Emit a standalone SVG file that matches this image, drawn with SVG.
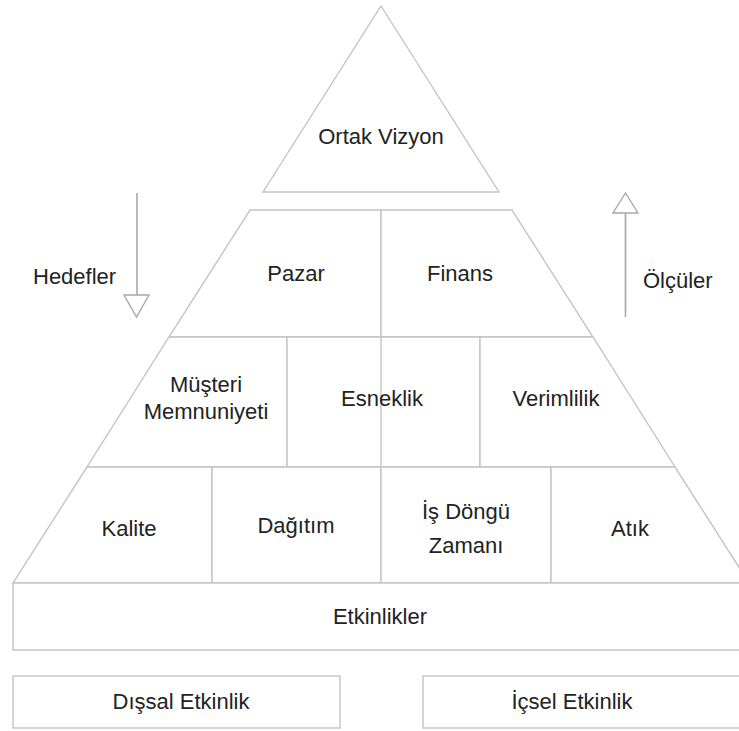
<svg xmlns="http://www.w3.org/2000/svg" width="739" height="731" viewBox="0 0 739 731">
  <defs>
    <style>
      .cell { fill: #ffffff; stroke: #c4c4c4; stroke-width: 1.4; stroke-linejoin: miter; }
      .axis { fill: none; stroke: #c4c4c4; stroke-width: 1.4; }
      .lbl { font-family: "Liberation Sans", Arial, sans-serif; font-size: 22px; fill: #222222; text-anchor: middle; }
      .side { font-family: "Liberation Sans", Arial, sans-serif; font-size: 22px; fill: #222222; }
      .shaft { fill: none; stroke: #a8a8a8; stroke-width: 1.6; }
      .head { fill: #ffffff; stroke: #a8a8a8; stroke-width: 1.4; }
    </style>
  </defs>
  <rect width="739" height="731" fill="#ffffff"/>

  <!-- apex -->
  <g id="ortak-vizyon">
    <polygon class="cell" points="381,6 499,192 263,192"/>
    <text class="lbl" x="381" y="144">Ortak Vizyon</text>
  </g>

  <!-- tier 1 -->
  <g id="pazar">
    <polygon class="cell" points="250,210 381,210 381,337 169,337"/>
    <text class="lbl" x="296" y="281">Pazar</text>
  </g>
  <g id="finans">
    <polygon class="cell" points="381,210 512,210 593,337 381,337"/>
    <text class="lbl" x="460" y="281">Finans</text>
  </g>

  <!-- tier 2 -->
  <g id="musteri-memnuniyeti">
    <polygon class="cell" points="169,337 287,337 287,467 87,467"/>
    <text class="lbl" x="206" y="392">Müşteri</text>
    <text class="lbl" x="206" y="419">Memnuniyeti</text>
  </g>
  <g id="esneklik">
    <polygon class="cell" points="287,337 480,337 480,467 287,467"/>
    <line class="axis" x1="381" y1="337" x2="381" y2="467"/>
    <text class="lbl" x="382" y="406">Esneklik</text>
  </g>
  <g id="verimlilik">
    <polygon class="cell" points="480,337 593,337 675,467 480,467"/>
    <text class="lbl" x="556" y="406">Verimlilik</text>
  </g>

  <!-- tier 3 -->
  <g id="kalite">
    <polygon class="cell" points="87,467 212,467 212,583 13,583"/>
    <text class="lbl" x="129" y="536">Kalite</text>
  </g>
  <g id="dagitim">
    <polygon class="cell" points="212,467 381,467 381,583 212,583"/>
    <text class="lbl" x="296" y="533">Dağıtım</text>
  </g>
  <g id="is-dongu-zamani">
    <polygon class="cell" points="381,467 551,467 551,583 381,583"/>
    <text class="lbl" x="466" y="519">İş Döngü</text>
    <text class="lbl" x="466" y="553">Zamanı</text>
  </g>
  <g id="atik">
    <polygon class="cell" points="551,467 675,467 749,583 551,583"/>
    <text class="lbl" x="630" y="536">Atık</text>
  </g>

  <!-- base -->
  <g id="etkinlikler">
    <rect class="cell" x="13" y="583" width="740" height="67"/>
    <text class="lbl" x="380" y="624">Etkinlikler</text>
  </g>
  <g id="dissal-etkinlik">
    <rect class="cell" x="13" y="676" width="327" height="52"/>
    <text class="lbl" x="181" y="709">Dışsal Etkinlik</text>
  </g>
  <g id="icsel-etkinlik">
    <rect class="cell" x="423" y="676" width="330" height="52"/>
    <text class="lbl" x="572" y="709">İçsel Etkinlik</text>
  </g>

  <!-- side labels -->
  <g id="hedefler">
    <text class="side" x="33" y="284">Hedefler</text>
  </g>
  <g id="olculer">
    <text class="side" x="643" y="288">Ölçüler</text>
  </g>

  <!-- direction arrows -->
  <g id="connectors">
    <g id="arrow-down">
      <line class="shaft" x1="137" y1="193" x2="137" y2="295"/>
      <polygon class="head" points="124,295 149,295 136.5,317"/>
    </g>
    <g id="arrow-up">
      <line class="shaft" x1="625.5" y1="317" x2="625.5" y2="213"/>
      <polygon class="head" points="613,213 638,213 625.5,193"/>
    </g>
  </g>
</svg>
